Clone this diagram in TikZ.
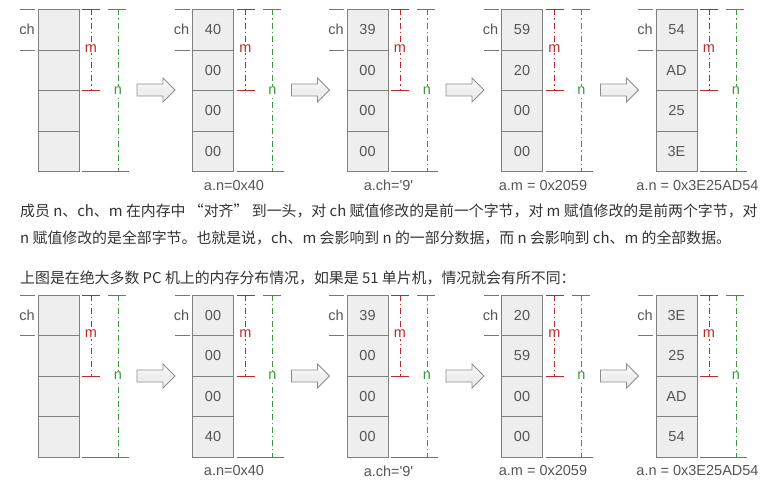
\documentclass[tikz,border=0pt]{standalone}
\usepackage{fontspec}
\newfontfamily\labfont{Liberation Sans}
\newfontfamily\cjkfont{Noto Sans CJK SC}
\definecolor{boxfill}{HTML}{EEEEEE}
\definecolor{boxline}{HTML}{808080}
\definecolor{txtgray}{HTML}{555555}
\definecolor{mred}{HTML}{C0272D}
\definecolor{ngreen}{HTML}{3A9A3A}
\definecolor{bodytxt}{HTML}{333333}
\tikzset{
  cell/.style={draw=boxline, fill=boxfill, line width=0.95pt, minimum width=41pt, minimum height=40.5pt, inner sep=0pt, font=\labfont\fontsize{14.5}{16}\selectfont, text=txtgray},
  lab/.style={font=\labfont\fontsize{14.5}{16}\selectfont, text=txtgray, inner sep=1pt},
  tickline/.style={draw=txtgray!80, line width=0.9pt},
  redtick/.style={draw=mred, line width=1pt},
  greentick/.style={draw=ngreen, line width=1pt},
  dashdot/.style={dash pattern=on 6pt off 3pt on 1.2pt off 3pt},
  mlab/.style={font=\labfont\fontsize{14.5}{16}\selectfont, text=mred, fill=white, inner sep=1pt},
  nlab/.style={font=\labfont\fontsize{14.5}{16}\selectfont, text=ngreen, fill=white, inner sep=1pt},
  blockarrow/.style={draw=boxline!90, line width=0.9pt, top color=white, bottom color=boxfill!80!gray!40, middle color=boxfill},
  bodytext/.style={font=\cjkfont\fontsize{14.9}{16}\selectfont, text=bodytxt, anchor=west, inner sep=0pt},
}
\newcommand{\memcol}[8]{%
  \begin{scope}[shift={(#2,#3)}]
    \node[cell] (#1a) at (20.5,20.25) {#4};
    \node[cell] (#1b) at (20.5,60.75) {#5};
    \node[cell] (#1c) at (20.5,101.25) {#6};
    \node[cell] (#1d) at (20.5,141.75) {#7};
    \draw[tickline] (-18,0) -- (-3,0);
    \draw[tickline] (-18,40.5) -- (-3,40.5);
    \node[lab] (#1ch) at (-11,20.25) {ch};
    \draw[redtick] (44,0) -- (62,0);
    \draw[redtick] (44,81) -- (62,81);
    \draw[redtick, dashdot] (53,0) -- (53,81);
    \node[mlab] (#1m) at (53,39) {m};
    \draw[greentick] (70,0) -- (88,0);
    \draw[greentick] (44,162) -- (91,162);
    \draw[greentick, dashdot] (80,0) -- (80,162);
    \node[nlab] (#1n) at (80,81) {n};
    \node[lab] (#1lab) at (41.5,176) {#8};
  \end{scope}}
\newcommand{\blockarr}[3]{%
  \begin{scope}[shift={(#2,#3)}]
    \draw[blockarrow] (99,-6) -- (125,-6) -- (125,-12) -- (137,0) -- (125,12) -- (125,6) -- (99,6) -- cycle;
    \coordinate (#1) at (118,0);
  \end{scope}}
\begin{document}
\begin{tikzpicture}[x=1pt,y=-1pt]
\useasboundingbox (0,0) rectangle (783,486);
% top row
\memcol{ta}{38}{9.5}{}{}{}{}{}
\memcol{tb}{192.5}{9.5}{40}{00}{00}{00}{a.n=0x40}
\memcol{tc}{347}{9.5}{39}{00}{00}{00}{a.ch=\textquotesingle9\textquotesingle}
\memcol{td}{501.5}{9.5}{59}{20}{00}{00}{a.m = 0x2059}
\memcol{te}{656}{9.5}{54}{AD}{25}{3E}{a.n = 0x3E25AD54}
\blockarr{tar1}{38}{90}
\blockarr{tar2}{192.5}{90}
\blockarr{tar3}{347}{90}
\blockarr{tar4}{501.5}{90}
% text
\node[bodytext] (t1) at (20,211) {成员 n、ch、m 在内存中 “对齐” 到一头，对 ch 赋值修改的是前一个字节，对 m 赋值修改的是前两个字节，对};
\node[bodytext] (t2) at (20,238) {n 赋值修改的是全部字节。也就是说，ch、m 会影响到 n 的一部分数据，而 n 会影响到 ch、m 的全部数据。};
\node[bodytext] (t3) at (20,278) {上图是在绝大多数 PC 机上的内存分布情况，如果是 51 单片机，情况就会有所不同：};
% bottom row
\memcol{ba}{38}{295}{}{}{}{}{}
\memcol{bb}{192.5}{295}{00}{00}{00}{40}{a.n=0x40}
\memcol{bc}{347}{295}{39}{00}{00}{00}{a.ch=\textquotesingle9\textquotesingle}
\memcol{bd}{501.5}{295}{20}{59}{00}{00}{a.m = 0x2059}
\memcol{be}{656}{295}{3E}{25}{AD}{54}{a.n = 0x3E25AD54}
\blockarr{bar1}{38}{376}
\blockarr{bar2}{192.5}{376}
\blockarr{bar3}{347}{376}
\blockarr{bar4}{501.5}{376}
\end{tikzpicture}
\end{document}
